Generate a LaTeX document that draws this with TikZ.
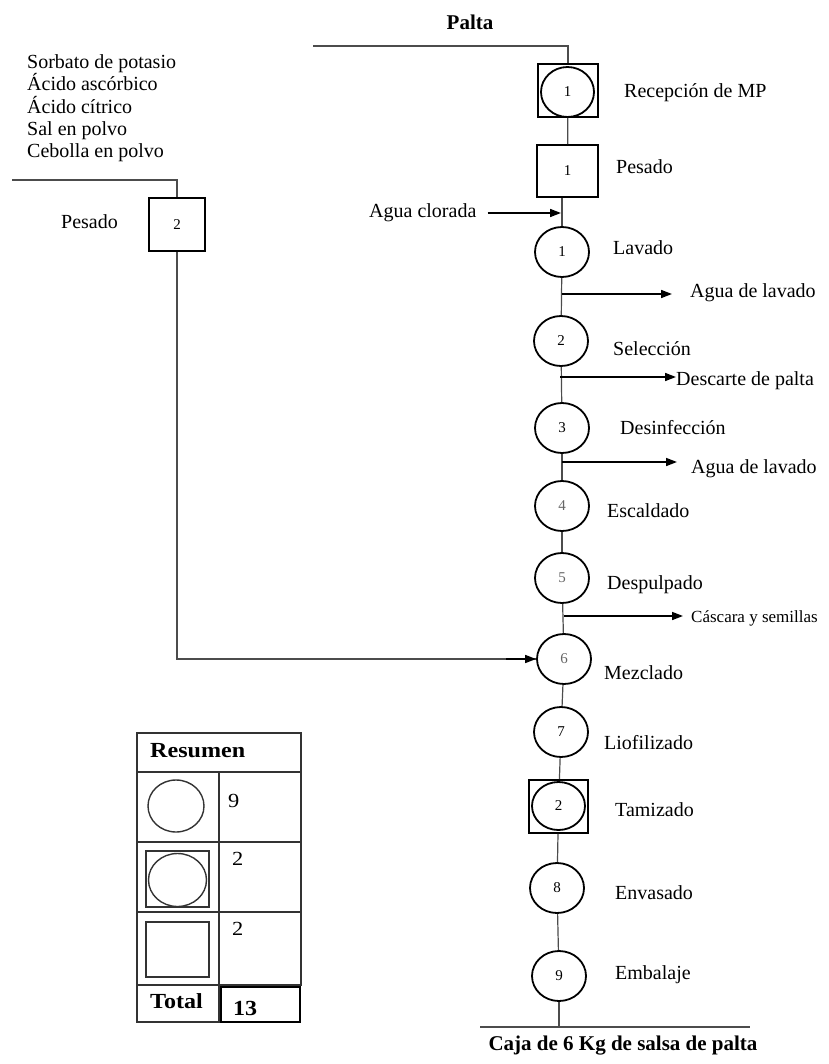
\documentclass[tikz,border=0pt]{standalone}
\usepackage{fontspec}
\setmainfont{Liberation Serif}
\newfontfamily\tabfont[FakeStretch=1.12]{Liberation Serif}
\usetikzlibrary{shapes.geometric,arrows.meta}
\begin{document}
\begin{tikzpicture}[x=1pt,y=-1pt,
  txt/.style={anchor=base west,inner sep=0pt,font=\fontsize{20}{22.3}\selectfont},
  smalltxt/.style={anchor=base west,inner sep=0pt,font=\fontsize{17}{20}\selectfont},
  ttl/.style={inner sep=0pt,font=\bfseries\fontsize{21}{24}\selectfont},
  op/.style={ellipse,draw=black,line width=1.8pt,minimum width=54pt,minimum height=50pt,inner sep=0pt,font=\fontsize{15}{15}\selectfont},
  sq/.style={rectangle,draw=black,line width=1.8pt,inner sep=0pt,font=\fontsize{15}{15}\selectfont},
  flow/.style={line width=1.2pt,draw=black!70},
  arr/.style={line width=1.6pt,draw=black,-{Triangle[length=11pt,width=8pt]}},
  tab/.style={line width=1.3pt,draw=black!80},
  tabsym/.style={draw=black!80,line width=1.4pt,inner sep=0pt},
  tabnum/.style={anchor=base west,inner sep=0pt,font=\tabfont\fontsize{20}{22}\selectfont},
  tabbold/.style={anchor=base west,inner sep=0pt,font=\tabfont\bfseries\fontsize{21.5}{24}\selectfont}
]
\useasboundingbox (0,0) rectangle (828,1064);

% ---------- main column ----------
\node[ttl] (palta) at (470,22) {Palta};
\coordinate (tl) at (313,46);
\node[sq,minimum width=60pt,minimum height=53pt] (rec) at (568,90.5) {};
\node[op,minimum width=53pt,minimum height=50pt] (recc) at (567.5,92) {1};
\node[txt] (trec) at (624,98) {Recepción de MP};
\node[sq,minimum width=61pt,minimum height=52pt] (pes1) at (567.5,171) {1};
\node[txt] (tpes1) at (616,174) {Pesado};

\node[op] (c1) at (562,252) {1};
\node[txt] (tc1) at (613,255) {Lavado};
\node[op] (c2) at (561,341) {2};
\node[txt] (tc2) at (613,355) {Selección};
\node[op] (c3) at (562,428) {3};
\node[txt] (tc3) at (620,434) {Desinfección};
\node[op] (c4) at (562,506) {\textcolor{black!60}{4}};
\node[txt] (tc4) at (607,517) {Escaldado};
\node[op] (c5) at (562,578) {\textcolor{black!60}{5}};
\node[txt] (tc5) at (607,589) {Despulpado};
\node[op] (c6) at (564,659) {\textcolor{black!60}{6}};
\node[txt] (tc6) at (604,679) {Mezclado};
\node[op] (c7) at (561,732) {7};
\node[txt] (tc7) at (604,749) {Liofilizado};
\node[sq,minimum width=59pt,minimum height=53pt] (tam) at (558.5,806.5) {};
\node[op,minimum width=53pt,minimum height=48pt] (tamc) at (558.5,806) {2};
\node[txt] (ttam) at (615,816) {Tamizado};
\node[op] (c8) at (557,888) {8};
\node[txt] (tc8) at (615,899) {Envasado};
\node[op] (c9) at (559,976) {9};
\node[txt] (tc9) at (615,979) {Embalaje};
\coordinate (bl) at (480,1027);
\coordinate (br) at (750,1027);
\node[ttl] (caja) at (623,1046) {Caja de 6 Kg de salsa de palta};

% connectors main column
\draw[flow] (tl) -| (rec.north);
\draw[flow] (rec) -- (pes1);
\draw[flow] (c1 |- pes1.south) -- (c1);
\draw[flow] (c1) -- (c2);
\draw[flow] (c2) -- (c3);
\draw[flow] (c3) -- (c4);
\draw[flow] (c4) -- (c5);
\draw[flow] (c5) -- (c6);
\draw[flow] (c6) -- (c7);
\draw[flow] (c7) -- (tam);
\draw[flow] (tam) -- (c8);
\draw[flow] (c8) -- (c9);
\draw[flow] (c9) -- (c9 |- bl);
\draw[flow] (bl) -- (br);

% inputs / outputs
\node[txt] (agua) at (369,218) {Agua clorada};
\coordinate (in1) at (562,213);
\draw[arr,shorten <=11pt,shorten >=1pt] (agua.east |- in1) -- (in1);

\node[txt] (out1) at (690,298) {Agua de lavado};
\coordinate (b1) at (562,294);
\draw[arr,shorten >=18pt] (b1) -- (b1 -| out1.west);

\node[txt] (out2) at (676,385) {Descarte de palta};
\coordinate (b2) at (560,377);
\draw[arr] (b2) -- (b2 -| out2.west);

\node[txt] (out3) at (691,473) {Agua de lavado};
\coordinate (b3) at (562,462);
\draw[arr,shorten >=14pt] (b3) -- (b3 -| out3.west);

\node[smalltxt] (out4) at (691,622) {Cáscara y semillas};
\coordinate (b4) at (564,616);
\draw[arr,shorten >=8pt] (b4) -- (b4 -| out4.west);

% ---------- left branch ----------
\node[txt] (ing1) at (27,69) {Sorbato de potasio};
\node[txt] (ing2) at (27,91) {Ácido ascórbico};
\node[txt] (ing3) at (27,113.5) {Ácido cítrico};
\node[txt] (ing4) at (27,136) {Sal en polvo};
\node[txt] (ing5) at (27,158) {Cebolla en polvo};
\coordinate (lt) at (12,180);
\node[sq,minimum width=56pt,minimum height=53pt] (pes2) at (177,224.5) {2};
\node[txt] (tpes2) at (61,229) {Pesado};
\draw[flow] (lt) -| (pes2.north);
\draw[flow] (pes2.south) |- (c6.west);
\draw[arr] ([xshift=-30pt]c6.west) -- (c6.west);

% ---------- summary table ----------
\draw[tab] (137,733) rectangle (301,985);
\draw[tab] (137,772) -- (301,772);
\draw[tab] (219,772) -- (219,985);
\draw[tab] (137,842) -- (301,842);
\draw[tab] (137,912) -- (301,912);
\draw[tab] (137,985) rectangle (219,1022);
\draw[line width=2.2pt] (221,987) rectangle (300,1022);
\node[tabbold] (res) at (150,757) {Resumen};
\node[tabsym,ellipse,minimum width=56pt,minimum height=52pt] (s1) at (176,806) {};
\node[tabsym,rectangle,minimum width=63pt,minimum height=56pt] (s2) at (177.5,879) {};
\node[tabsym,ellipse,minimum width=58pt,minimum height=53pt] (s2c) at (177.5,880) {};
\node[tabsym,rectangle,minimum width=63pt,minimum height=55pt] (s3) at (177.5,949.5) {};
\node[tabnum] (n1) at (228,807) {9};
\node[tabnum] (n2) at (232,865) {2};
\node[tabnum] (n3) at (232,935) {2};
\node[tabbold] (tot) at (150,1008) {Total};
\node[tabbold] (tot13) at (233,1015) {13};
\end{tikzpicture}
\end{document}
